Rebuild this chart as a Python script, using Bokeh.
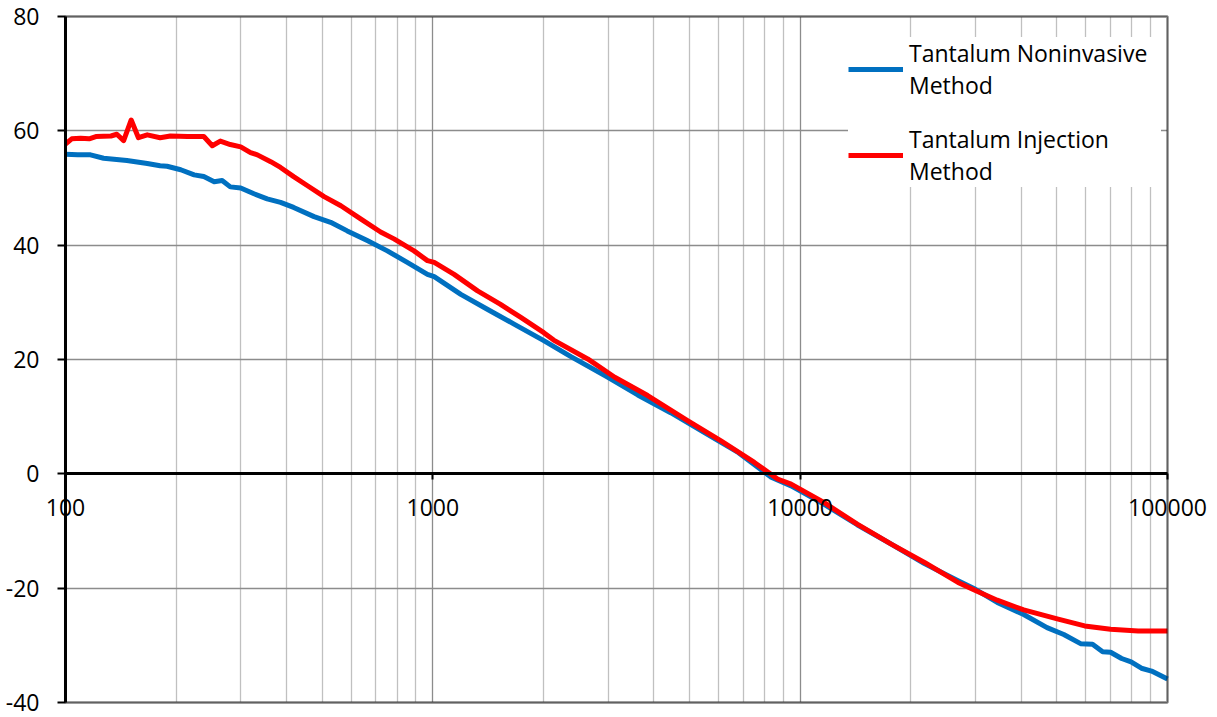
from bokeh.plotting import figure
from bokeh.models import Range1d, FixedTicker, PrintfTickFormatter, BoxAnnotation
from bokeh.embed import file_html
from bokeh.resources import INLINE

# ---- data ----
freq_noninvasive = [100, 108, 117, 127, 147, 167, 181, 189, 206, 224, 238, 254, 267, 281, 300,
                    326, 354, 385, 418, 475, 527, 585, 663, 752, 852, 967, 1009, 1192, 1407,
                    1664, 2005, 2377, 2998, 3614, 4442, 5491, 6796, 8340, 9450, 11600, 14300,
                    17700, 21800, 26900, 30000, 34400, 40600, 47000, 52200, 58000, 62500,
                    66600, 70000, 75000, 79600, 84900, 90500, 100000]
gain_noninvasive = [55.9, 55.8, 55.8, 55.2, 54.8, 54.3, 53.9, 53.8, 53.2, 52.3, 52.0, 51.1, 51.3,
                    50.2, 50.0, 49.0, 48.1, 47.5, 46.6, 45.0, 44.0, 42.5, 40.8, 39.0, 37.0, 34.9,
                    34.5, 31.4, 28.8, 26.2, 23.3, 20.5, 16.9, 13.8, 10.7, 7.2, 3.7, -0.6, -2.1,
                    -5.3, -8.9, -12.3, -15.7, -18.7, -20.2, -22.5, -24.6, -26.9, -28.1, -29.7,
                    -29.8, -31.1, -31.2, -32.3, -32.9, -34.0, -34.5, -35.9]

freq_injection = [100, 104, 110, 116, 121, 133, 138, 144, 151, 158, 167, 181, 193, 215, 238,
                  251, 264, 281, 300, 319, 333, 362, 385, 418, 456, 506, 562, 636, 721, 784,
                  889, 967, 1009, 1143, 1324, 1525, 1732, 2005, 2133, 2640, 3128, 3845,
                  4936, 6073, 7506, 8678, 9450, 11600, 14300, 17700, 21800, 26900, 30000,
                  34400, 40600, 50400, 59500, 70000, 83200, 100000]
gain_injection = [57.7, 58.6, 58.7, 58.6, 59.0, 59.1, 59.4, 58.3, 61.9, 58.8, 59.3, 58.8, 59.1,
                  59.0, 59.0, 57.4, 58.2, 57.6, 57.2, 56.2, 55.8, 54.6, 53.6, 52.0, 50.4, 48.5,
                  46.9, 44.6, 42.3, 41.1, 39.0, 37.3, 37.0, 34.9, 32.0, 29.7, 27.4, 24.7,
                  23.4, 20.1, 16.9, 13.7, 9.3, 5.8, 2.0, -0.9, -1.8, -5.0, -8.8, -12.3, -15.5,
                  -19.0, -20.4, -22.1, -23.8, -25.4, -26.6, -27.2, -27.5, -27.5]

x_major_ticks = [100, 1000, 10000, 100000]
x_minor_ticks = [m * d for d in (100, 1000, 10000) for m in range(2, 10)]
y_ticks = [-40, -20, 0, 20, 40, 60, 80]
X_MIN, X_MAX = 100, 100000
Y_MIN, Y_MAX = -40, 80

series_labels = ["Tantalum Noninvasive\nMethod", "Tantalum Injection\nMethod"]
series_colors = ["#0070C0", "#FF0000"]

FONT = "Open Sans"
FSIZE = "23px"

# the visible ranges are padded so that the tick labels around the plot area
# (which sit inside the frame because both axes cross inside it) are not clipped
p = figure(width=1216, height=715, x_axis_type="log",
           x_range=Range1d(66.55, 135960), y_range=Range1d(-42.27, 82.8),
           output_backend="svg", toolbar_location=None,
           min_border=0, min_border_left=0, min_border_right=0,
           min_border_top=0, min_border_bottom=0)

p.background_fill_color = "white"
p.border_fill_color = "white"
p.outline_line_color = None

# grid lines limited to the plot area
p.xgrid.grid_line_color = "#8c8c8c"
p.xgrid.grid_line_width = 1.3
p.xgrid.minor_grid_line_color = "#c0c0c0"
p.xgrid.minor_grid_line_width = 1.3
p.xgrid.bounds = (X_MIN, X_MAX)
p.xgrid.cross_bounds = (Y_MIN, Y_MAX)
p.ygrid.grid_line_color = "#8c8c8c"
p.ygrid.grid_line_width = 1.3
p.ygrid.bounds = (Y_MIN, Y_MAX)
p.ygrid.cross_bounds = (X_MIN, X_MAX)

# plot-area border (drawn above the grid; the legend is drawn above it)
border = BoxAnnotation(left=X_MIN, right=X_MAX, bottom=Y_MIN, top=Y_MAX,
                       fill_alpha=0, fill_color=None, line_color="black", line_width=3,
                       level="annotation")
p.add_layout(border)

# x axis crossing at y = 0
xa = p.xaxis[0]
xa.fixed_location = 0
xa.bounds = (X_MIN, X_MAX)
xa.ticker = FixedTicker(ticks=x_major_ticks, minor_ticks=x_minor_ticks)
xa.formatter = PrintfTickFormatter(format="%d")
xa.axis_line_color = "black"
xa.axis_line_width = 3
xa.major_tick_out = 6
xa.major_tick_in = 0
xa.major_tick_line_width = 2
xa.minor_tick_out = 0
xa.minor_tick_in = 0
xa.major_label_text_font = FONT
xa.major_label_text_font_size = FSIZE
xa.major_label_text_color = "black"
xa.major_label_standoff = 19

# y axis at x = 100
ya = p.yaxis[0]
ya.fixed_location = X_MIN
ya.bounds = (Y_MIN, Y_MAX)
ya.ticker = FixedTicker(ticks=y_ticks)
ya.formatter = PrintfTickFormatter(format="%d")
ya.axis_line_color = "black"
ya.axis_line_width = 3
ya.major_tick_out = 8
ya.major_tick_in = 0
ya.major_tick_line_width = 2
ya.minor_tick_out = 0
ya.minor_tick_in = 0
ya.major_label_text_font = FONT
ya.major_label_text_font_size = FSIZE
ya.major_label_text_color = "black"
ya.major_label_standoff = 18

p.line(freq_noninvasive, gain_noninvasive, line_color=series_colors[0], line_width=5,
       line_join="round", legend_label=series_labels[0])
p.line(freq_injection, gain_injection, line_color=series_colors[1], line_width=5,
       line_join="round", legend_label=series_labels[1])

lg = p.legend[0]
lg.location = (848, 528)
lg.border_line_color = None
lg.background_fill_color = "white"
lg.background_fill_alpha = 1.0
lg.padding = 14
lg.margin = 0
lg.spacing = 22
lg.glyph_width = 55
lg.glyph_height = 20
lg.label_width = 252
lg.label_standoff = 6
lg.label_text_font = FONT
lg.label_text_font_size = FSIZE
lg.label_text_color = "black"
lg.label_text_line_height = 1.41

open("out.html", "w").write(file_html(p, INLINE))
